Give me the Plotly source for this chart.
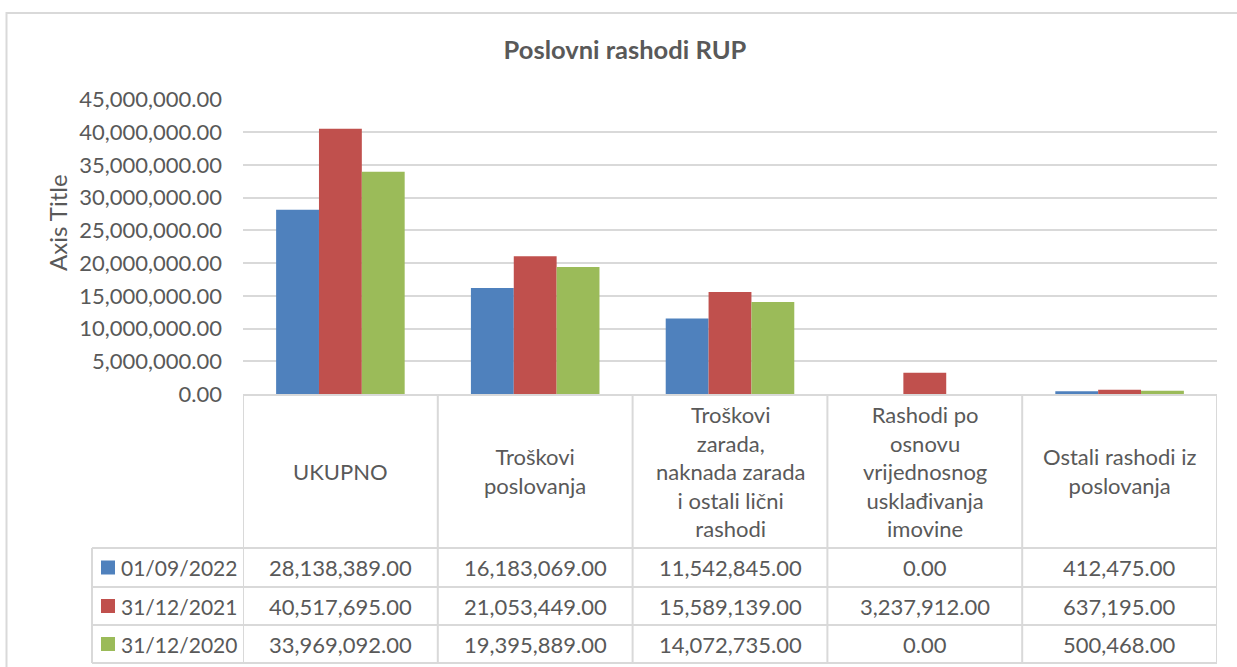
import plotly.graph_objects as go

# ---------------- data ----------------
categories = ["UKUPNO", "Troškovi poslovanja",
              "Troškovi zarada, naknada zarada i ostali lični rashodi",
              "Rashodi po osnovu vrijednosnog usklađivanja imovine",
              "Ostali rashodi iz poslovanja"]
category_labels = ["UKUPNO",
                   "Troškovi<br>poslovanja",
                   "Troškovi<br>zarada,<br>naknada zarada<br>i ostali lični<br>rashodi",
                   "Rashodi po<br>osnovu<br>vrijednosnog<br>usklađivanja<br>imovine",
                   "Ostali rashodi iz<br>poslovanja"]
series_names = ["01/09/2022", "31/12/2021", "31/12/2020"]
values_2022_09 = [28138389, 16183069, 11542845, 0, 412475]
values_2021_12 = [40517695, 21053449, 15589139, 3237912, 637195]
values_2020_12 = [33969092, 19395889, 14072735, 0, 500468]
series_values = [values_2022_09, values_2021_12, values_2020_12]
series_colors = ["#4F81BD", "#C0504D", "#9BBB59"]

# ---------------- layout constants (pixels) ----------------
W, H = 1237, 667
FONT = "Lato"
TXT = "#595959"
LINE = "#D9D9D9"
plot_left, plot_right = 243, 1217
plot_top, plot_bottom = 99.5, 394
legend_left = 92
row_edges = [548, 587, 625, 663]


def px(x):
    return x / W


def py(y):
    return 1 - y / H


fig = go.Figure()
for name, vals, col in zip(series_names, series_values, series_colors):
    fig.add_trace(go.Bar(x=list(range(len(categories))), y=vals, name=name,
                         marker=dict(color=col, line=dict(width=0)),
                         hovertext=categories, showlegend=False))

shapes = []
annotations = []

# outer chart border
shapes.append(dict(type="rect", xref="paper", yref="paper",
                   x0=px(6.5), x1=1.05, y0=-0.05, y1=py(13),
                   line=dict(color=LINE, width=2), fillcolor="rgba(0,0,0,0)", layer="below"))

# data table grid: vertical lines at category boundaries
n = len(categories)
for k in range(n + 1):
    shapes.append(dict(type="line", xref="x", yref="paper",
                       x0=k - 0.5, x1=k - 0.5, y0=py(plot_bottom), y1=py(row_edges[-1]),
                       line=dict(color=LINE, width=2)))
shapes.append(dict(type="line", xref="paper", yref="paper",
                   x0=px(legend_left), x1=px(legend_left), y0=py(row_edges[0]), y1=py(row_edges[-1]),
                   line=dict(color=LINE, width=2)))
for ry in row_edges:
    shapes.append(dict(type="line", xref="paper", yref="paper",
                       x0=px(legend_left), x1=px(plot_right), y0=py(ry), y1=py(ry),
                       line=dict(color=LINE, width=2)))

# table header (category labels)
for i, lab in enumerate(category_labels):
    annotations.append(dict(x=i, y=py((plot_bottom + row_edges[0]) / 2), xref="x", yref="paper",
                            text=lab, showarrow=False, xanchor="center", yanchor="middle",
                            font=dict(family=FONT, size=22, color=TXT)))

# table rows
for r, (name, vals, col) in enumerate(zip(series_names, series_values, series_colors)):
    yc = (row_edges[r] + row_edges[r + 1]) / 2
    for i, v in enumerate(vals):
        annotations.append(dict(x=i, y=py(yc), xref="x", yref="paper",
                                text=f"{v:,.2f}", showarrow=False, xanchor="center", yanchor="middle",
                                font=dict(family=FONT, size=22, color=TXT)))
    shapes.append(dict(type="rect", xref="paper", yref="paper",
                       x0=px(101), x1=px(115), y0=py(yc + 7), y1=py(yc - 7),
                       line=dict(width=0), fillcolor=col))
    annotations.append(dict(x=px(119), y=py(yc), xref="paper", yref="paper",
                            text=name, showarrow=False, xanchor="left", yanchor="middle",
                            font=dict(family=FONT, size=21, color=TXT)))

# axis title
annotations.append(dict(x=px(57), y=py(223), xref="paper", yref="paper", text="Axis Title",
                        textangle=-90, showarrow=False, xanchor="center", yanchor="middle",
                        font=dict(family=FONT, size=24, color=TXT)))

fig.update_layout(
    width=W, height=H,
    autosize=False,
    margin=dict(l=0, r=0, t=0, b=0, pad=0, autoexpand=False),
    paper_bgcolor="white", plot_bgcolor="white",
    barmode="group", bargap=0.34, bargroupgap=0,
    title=dict(text="<b>Poslovni rashodi RUP</b>", x=px(625), y=py(50),
               xanchor="center", yanchor="middle",
               font=dict(family=FONT, size=25.5, color=TXT)),
    xaxis=dict(domain=[px(plot_left), px(plot_right)], range=[-0.5, n - 0.5],
               showticklabels=False, showgrid=False, zeroline=False, automargin=False,
               showline=True, linecolor=LINE, linewidth=2, fixedrange=True),
    yaxis=dict(domain=[py(plot_bottom), py(plot_top)], range=[0, 45e6], dtick=5e6,
               tickformat=",.2f", showgrid=True, gridcolor=LINE, gridwidth=1.5,
               zeroline=False, showline=False, ticklabelstandoff=20, automargin=False,
               tickfont=dict(family=FONT, size=22, color=TXT), fixedrange=True),
    shapes=shapes, annotations=annotations,
    showlegend=False,
)

post = """
document.body.style.margin='0px';
document.documentElement.style.overflow='hidden';
document.body.style.overflow='hidden';
"""

fig.write_html("out.html", config={"displayModeBar": False}, post_script=post)
